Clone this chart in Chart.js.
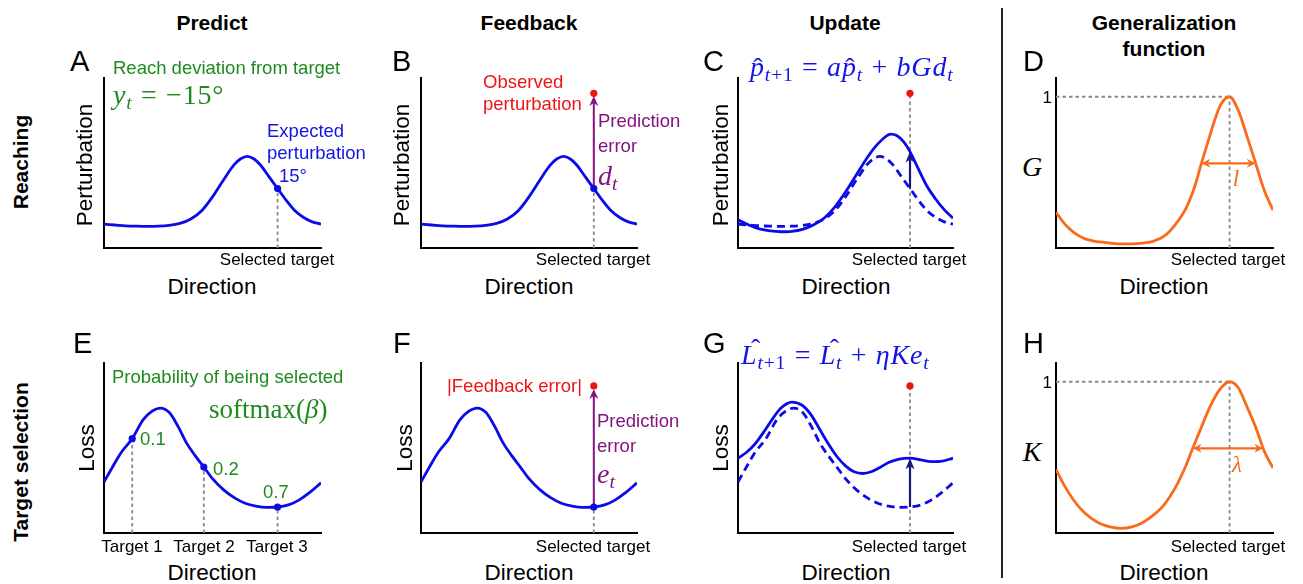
<!DOCTYPE html>
<html>
<head>
<meta charset="utf-8">
<script src="https://cdn.jsdelivr.net/npm/chart.js@4.4.1/dist/chart.umd.min.js"></script>
<style>
  html, body { margin: 0; padding: 0; background: #fff; }
  #fig { position: relative; width: 1303px; height: 584px; overflow: hidden; background: #fff; }
  canvas.plot { position: absolute; }
  .t { position: absolute; white-space: nowrap; line-height: 1; font-family: 'Liberation Sans', Arial, sans-serif; color: #000; }
  .c { transform: translate(-50%, -50%); }
  .l { transform: translate(0, -50%); }
  .r { transform: translate(-100%, -50%); }
  .rot { transform: translate(-50%, -50%) rotate(-90deg); }
  .title { font-size: 21px; font-weight: bold; }
  .letter { font-size: 29px; }
  .axis { font-size: 22.5px; }
  .tick { font-size: 17px; }
  .note { font-size: 18.5px; }
  .green { color: #1f8a1f; }
  .blue { color: #1414e6; }
  .red { color: #ee1414; }
  .purple { color: #84137f; }
  .orange { color: #fb6a1c; }
  .m { font-family: 'Liberation Serif', 'DejaVu Serif', serif; }
  .m i { font-style: italic; }
  .m sub { font-size: 70%; vertical-align: -0.28em; line-height: 0; }
  .f { letter-spacing: 0.03em; }
  .eq { margin: 0 0.3em; font-style: normal; }
  .hat { position: relative; display: inline-block; font-style: italic; }
  .hat::after { content: '\02C6'; position: absolute; left: 0.12em; top: 0.02em; font-style: normal; }
  .hat.cap::after { left: 0.36em; top: -0.2em; }
  #sep { position: absolute; left: 1001px; top: 8px; width: 1.5px; height: 570px; background: #222; }
</style>
</head>
<body>
<div id="fig">
  <canvas class="plot" id="pA" width="241" height="194" style="left:92px;top:66px"></canvas>
  <canvas class="plot" id="pB" width="240" height="194" style="left:409px;top:66px"></canvas>
  <canvas class="plot" id="pC" width="239" height="194" style="left:726px;top:66px"></canvas>
  <canvas class="plot" id="pD" width="241" height="194" style="left:1044px;top:66px"></canvas>
  <canvas class="plot" id="pE" width="241" height="194" style="left:92px;top:351px"></canvas>
  <canvas class="plot" id="pF" width="240" height="194" style="left:409px;top:351px"></canvas>
  <canvas class="plot" id="pG" width="239" height="194" style="left:726px;top:351px"></canvas>
  <canvas class="plot" id="pH" width="241" height="194" style="left:1044px;top:351px"></canvas>

  <div id="sep"></div>

  <!-- column and row headings -->
  <div class="t title c" style="left:212px;top:22px">Predict</div>
  <div class="t title c" style="left:529px;top:22px">Feedback</div>
  <div class="t title c" style="left:845px;top:22px">Update</div>
  <div class="t title c" style="left:1164px;top:22px">Generalization</div>
  <div class="t title c" style="left:1164px;top:48px">function</div>
  <div class="t title rot" style="left:20px;top:162px">Reaching</div>
  <div class="t title rot" style="left:20px;top:462px">Target selection</div>

  <!-- panel letters -->
  <div class="t letter l" style="left:70px;top:61px">A</div>
  <div class="t letter l" style="left:392px;top:61px">B</div>
  <div class="t letter l" style="left:703px;top:61px">C</div>
  <div class="t letter l" style="left:1023px;top:61px">D</div>
  <div class="t letter l" style="left:73px;top:343px">E</div>
  <div class="t letter l" style="left:393px;top:343px">F</div>
  <div class="t letter l" style="left:703px;top:343px">G</div>
  <div class="t letter l" style="left:1023px;top:343px">H</div>

  <!-- axis titles -->
  <div class="t axis rot" style="left:85px;top:165px">Perturbation</div>
  <div class="t axis rot" style="left:402px;top:165px">Perturbation</div>
  <div class="t axis rot" style="left:721px;top:165px">Perturbation</div>
  <div class="t axis rot" style="left:87px;top:448px">Loss</div>
  <div class="t axis rot" style="left:405px;top:448px">Loss</div>
  <div class="t axis rot" style="left:721px;top:448px">Loss</div>
  <div class="t m c" style="left:1032px;top:167px;font-size:28px"><i>G</i></div>
  <div class="t m c" style="left:1032px;top:452px;font-size:28px"><i>K</i></div>

  <div class="t axis c" style="left:212px;top:287px">Direction</div>
  <div class="t axis c" style="left:529px;top:287px">Direction</div>
  <div class="t axis c" style="left:846px;top:287px">Direction</div>
  <div class="t axis c" style="left:1164px;top:287px">Direction</div>
  <div class="t axis c" style="left:212px;top:573px">Direction</div>
  <div class="t axis c" style="left:529px;top:573px">Direction</div>
  <div class="t axis c" style="left:846px;top:573px">Direction</div>
  <div class="t axis c" style="left:1164px;top:573px">Direction</div>

  <!-- tick labels -->
  <div class="t tick c" style="left:277px;top:259px">Selected target</div>
  <div class="t tick c" style="left:593px;top:259px">Selected target</div>
  <div class="t tick c" style="left:909px;top:259px">Selected target</div>
  <div class="t tick c" style="left:1228px;top:259px">Selected target</div>
  <div class="t tick c" style="left:132px;top:546px">Target 1</div>
  <div class="t tick c" style="left:204px;top:546px">Target 2</div>
  <div class="t tick c" style="left:277px;top:546px">Target 3</div>
  <div class="t tick c" style="left:593px;top:546px">Selected target</div>
  <div class="t tick c" style="left:909px;top:546px">Selected target</div>
  <div class="t tick c" style="left:1228px;top:546px">Selected target</div>
  <div class="t tick r" style="left:1052px;top:97px">1</div>
  <div class="t tick r" style="left:1052px;top:382px">1</div>

  <!-- A -->
  <div class="t note green l" style="left:113px;top:68px">Reach deviation from target</div>
  <div class="t m f green l" style="left:113px;top:95px;font-size:28px"><i>y</i><sub><i>t</i></sub><span class="eq">=</span>&minus;15&deg;</div>
  <div class="t note blue l" style="left:267px;top:131px">Expected</div>
  <div class="t note blue l" style="left:267px;top:153px">perturbation</div>
  <div class="t note blue l" style="left:279px;top:176px">15&deg;</div>

  <!-- B -->
  <div class="t note red l" style="left:483px;top:82px">Observed</div>
  <div class="t note red l" style="left:483px;top:104px">perturbation</div>
  <div class="t note purple l" style="left:598px;top:121px">Prediction</div>
  <div class="t note purple l" style="left:598px;top:146px">error</div>
  <div class="t m purple l" style="left:598px;top:176px;font-size:28px"><i>d</i><sub><i>t</i></sub></div>

  <!-- C -->
  <div class="t m f blue l" style="left:750px;top:67px;font-size:28px"><span class="hat">p</span><sub><i>t</i>+1</sub><span class="eq">=</span><i>a</i><span class="hat">p</span><sub><i>t</i></sub><span class="eq">+</span><i>bGd</i><sub><i>t</i></sub></div>

  <!-- D -->
  <div class="t m orange c" style="left:1236px;top:178px;font-size:23px"><i>l</i></div>

  <!-- E -->
  <div class="t note green l" style="left:112px;top:377px">Probability of being selected</div>
  <div class="t m green l" style="left:209px;top:409px;font-size:27px">softmax(<i>&beta;</i>)</div>
  <div class="t note green l" style="left:140px;top:439px">0.1</div>
  <div class="t note green l" style="left:213px;top:469px">0.2</div>
  <div class="t note green l" style="left:263px;top:492px">0.7</div>

  <!-- F -->
  <div class="t note red l" style="left:447px;top:386px">|Feedback error|</div>
  <div class="t note purple l" style="left:597px;top:421px">Prediction</div>
  <div class="t note purple l" style="left:597px;top:446px">error</div>
  <div class="t m purple l" style="left:597px;top:474px;font-size:28px"><i>e</i><sub><i>t</i></sub></div>

  <!-- G -->
  <div class="t m f blue l" style="left:741px;top:355px;font-size:28px"><span class="hat cap">L</span><sub><i>t</i>+1</sub><span class="eq">=</span><span class="hat cap">L</span><sub><i>t</i></sub><span class="eq">+</span><i>&eta;Ke</i><sub><i>t</i></sub></div>

  <!-- H -->
  <div class="t m orange c" style="left:1237px;top:464px;font-size:23px"><i>&lambda;</i></div>
</div>

<script>
// ---- data (direction runs 0..100 along each x axis; selected target sits at 80) ----
const selectedTarget = 80;

// expected perturbation before the trial, degrees
const perturbDir   = [0, 5, 10, 15, 20, 25, 30, 35, 40, 45, 50, 55, 60, 63, 66, 69, 72, 76, 80, 84, 88, 92, 96, 100];
const perturbPrior = [6.0, 5.8, 5.6, 5.5, 5.45, 5.5, 5.7, 6.2, 7.3, 9.4, 12.9, 17.1, 21.0, 22.5, 23.1, 22.5, 21.0, 18.0, 15.0, 12.0, 9.4, 7.7, 6.6, 6.0];

// expected perturbation after the update, degrees
const updatedDir       = [0, 5, 10, 15, 20, 25, 30, 35, 40, 45, 50, 55, 60, 64, 68, 71, 74, 77, 80, 84, 88, 92, 96, 100];
const perturbUpdated   = [7.1, 5.8, 4.8, 4.3, 4.1, 4.2, 4.7, 5.8, 7.5, 10.3, 14.1, 18.4, 22.7, 25.6, 27.8, 28.7, 28.3, 26.8, 24.3, 19.8, 15.5, 12.3, 9.6, 7.5];
const observedPerturbation = 39;

// generalization function G (peak = 1)
const genDir = [0, 4, 8, 12, 16, 20, 25, 30, 35, 40, 45, 50, 55, 60, 64, 67, 70, 73, 76, 80, 84, 88, 92, 96, 100];
const genG   = [0.236, 0.16, 0.105, 0.07, 0.05, 0.04, 0.032, 0.027, 0.027, 0.032, 0.045, 0.08, 0.155, 0.265, 0.41, 0.56, 0.70, 0.84, 0.95, 1.0, 0.91, 0.74, 0.56, 0.38, 0.25];
const genWidth = [67, 92];

// expected loss before the trial
const lossDir   = [0, 4, 8, 13, 18, 22, 26, 30, 34, 38, 42, 46, 50, 55, 60, 65, 70, 75, 80, 85, 90, 95, 100];
const lossPrior = [30, 39, 47.5, 55.5, 66.5, 71.5, 73.5, 71, 63, 53, 45.5, 38.8, 32, 25.5, 20.8, 17.5, 15.8, 15.1, 15.3, 16.5, 19.5, 24, 29.5];

// expected loss after the update
const lossUpdDir  = [0, 4, 8, 12, 16, 20, 25, 30, 34, 38, 42, 46, 50, 54, 58, 62, 66, 70, 75, 80, 85, 90, 95, 100];
const lossUpdated = [44, 47.5, 52.5, 59.5, 67, 73.5, 77, 75, 69.5, 61, 52.5, 45, 39.5, 36, 35, 36, 38.5, 41.5, 43.5, 44, 43, 42, 42.3, 44];
const feedbackError = 86.5;

// candidate targets and their choice probabilities
const targetDirs  = [13, 46, 80];
const targetNames = ['Target 1', 'Target 2', 'Target 3'];
const targetProbs = ['0.1', '0.2', '0.7'];

// generalization kernel K (peak = 1)
const kernelDir = [0, 4, 8, 12, 16, 20, 25, 30, 35, 40, 45, 50, 55, 60, 63, 67, 71, 75, 80, 84, 88, 92, 96, 100];
const kernelK   = [0.42, 0.31, 0.22, 0.15, 0.10, 0.065, 0.04, 0.03, 0.04, 0.07, 0.12, 0.19, 0.30, 0.45, 0.56, 0.70, 0.835, 0.94, 1.0, 0.96, 0.835, 0.70, 0.54, 0.43];
const kernelWidth = [63, 95.5];

// ---- styling ----
const PAD = 12;
const BLUE = '#0b0be8', ORANGE = '#fb6a1c', RED = '#ee1414', PURPLE = '#84137f', NAVY = '#18187a', GUIDE = '#8a8a8a';

const at = (dirs, vals, d) => vals[dirs.indexOf(d)];
const pts = (dirs, vals) => dirs.map((d, i) => ({ x: d, y: vals[i] }));

function curve(dirs, vals, color, dashed) {
  return {
    data: pts(dirs, vals), borderColor: color, borderWidth: 2.8,
    borderDash: dashed ? [8, 5] : [], pointRadius: 0, fill: false,
    cubicInterpolationMode: 'monotone', borderCapStyle: 'butt'
  };
}
function dots(dirs, vals, color) {
  return {
    data: pts(dirs, vals), showLine: false, pointRadius: 3.6, pointBorderWidth: 0,
    pointBackgroundColor: color, pointBorderColor: color, borderColor: color
  };
}

function head(ctx, tx, ty, ux, uy, hl, hw, notch) {
  const bx = tx - ux * hl, by = ty - uy * hl, px = -uy, py = ux;
  ctx.beginPath();
  ctx.moveTo(tx, ty);
  ctx.lineTo(bx + px * hw, by + py * hw);
  ctx.lineTo(tx - ux * (hl - notch), ty - uy * (hl - notch));
  ctx.lineTo(bx - px * hw, by - py * hw);
  ctx.closePath();
  ctx.fill();
}
function drawArrow(ctx, x0, y0, x1, y1, a) {
  const len = Math.hypot(x1 - x0, y1 - y0), ux = (x1 - x0) / len, uy = (y1 - y0) / len;
  const hl = a.head || 10, hw = a.half || 4.5, notch = a.notch == null ? 3 : a.notch;
  ctx.strokeStyle = a.color; ctx.fillStyle = a.color; ctx.lineWidth = a.width || 2;
  const sx = a.both ? x0 + ux * (hl - notch) : x0, sy = a.both ? y0 + uy * (hl - notch) : y0;
  ctx.beginPath();
  ctx.moveTo(sx, sy);
  ctx.lineTo(x1 - ux * (hl - notch), y1 - uy * (hl - notch));
  ctx.stroke();
  head(ctx, x1, y1, ux, uy, hl, hw, notch);
  if (a.both) head(ctx, x0, y0, -ux, -uy, hl, hw, notch);
}

// dotted guides and arrows, placed in data units through the chart scales
const guidesPlugin = {
  id: 'guides',
  beforeDatasetsDraw(chart, _args, o) {
    const { ctx } = chart, xs = chart.scales.x, ys = chart.scales.y;
    const X = v => xs.getPixelForValue(v), Y = v => ys.getPixelForValue(v);
    ctx.save();
    ctx.strokeStyle = GUIDE; ctx.lineWidth = 1.8; ctx.setLineDash([3.5, 3]);
    (o.vlines || []).forEach(g => {
      ctx.beginPath(); ctx.moveTo(X(g.x), Y(g.from)); ctx.lineTo(X(g.x), Y(g.to)); ctx.stroke();
    });
    (o.hlines || []).forEach(g => {
      ctx.beginPath(); ctx.moveTo(X(g.from), Y(g.y)); ctx.lineTo(X(g.to), Y(g.y)); ctx.stroke();
    });
    ctx.setLineDash([]);
    (o.arrows || []).forEach(a => drawArrow(ctx, X(a.x0), Y(a.y0), X(a.x1), Y(a.y1), a));
    ctx.restore();
  }
};

function axis(min, max) {
  return {
    type: 'linear', min, max,
    grid: { display: false, drawTicks: false },
    ticks: { display: false },
    border: { display: true, color: '#000', width: 2 }
  };
}

function panel(id, yMax, datasets, guides) {
  return new Chart(document.getElementById(id), {
    type: 'line',
    data: { datasets },
    options: {
      responsive: false, animation: false, events: [],
      layout: { padding: PAD },
      plugins: { legend: { display: false }, tooltip: { enabled: false }, guides },
      scales: { x: axis(0, 100), y: axis(0, yMax) }
    },
    plugins: [guidesPlugin]
  });
}

const PERT_MAX = 42.86, LOSS_MAX = 100, GEN_MAX = 1.124;
const pSel = at(perturbDir, perturbPrior, selectedTarget);
const pUpd = at(updatedDir, perturbUpdated, selectedTarget);
const lSel = at(lossDir, lossPrior, selectedTarget);
const lUpd = at(lossUpdDir, lossUpdated, selectedTarget);
const targetLoss = targetDirs.map(d => at(lossDir, lossPrior, d));

// A: predicted perturbation
panel('pA', PERT_MAX,
  [curve(perturbDir, perturbPrior, BLUE), dots([selectedTarget], [pSel], BLUE)],
  { vlines: [{ x: selectedTarget, from: 0, to: pSel }] });

// B: feedback on the reach
panel('pB', PERT_MAX,
  [curve(perturbDir, perturbPrior, BLUE), dots([selectedTarget], [pSel], BLUE),
   dots([selectedTarget], [observedPerturbation], RED)],
  { vlines: [{ x: selectedTarget, from: 0, to: pSel }],
    arrows: [{ x0: selectedTarget, y0: pSel, x1: selectedTarget, y1: observedPerturbation - 0.7,
               color: PURPLE, width: 2, head: 10, half: 4.5 }] });

// C: updated perturbation estimate
panel('pC', PERT_MAX,
  [curve(perturbDir, perturbPrior, BLUE, true), curve(updatedDir, perturbUpdated, BLUE),
   dots([selectedTarget], [observedPerturbation], RED)],
  { vlines: [{ x: selectedTarget, from: 0, to: observedPerturbation }],
    arrows: [{ x0: selectedTarget, y0: pSel, x1: selectedTarget, y1: pUpd,
               color: NAVY, width: 2.2, head: 11, half: 4.5 }] });

// D: generalization function
panel('pD', GEN_MAX,
  [curve(genDir, genG, ORANGE)],
  { vlines: [{ x: selectedTarget, from: 0, to: 1 }], hlines: [{ y: 1, from: 0, to: selectedTarget }],
    arrows: [{ x0: genWidth[0], y0: 0.56, x1: genWidth[1], y1: 0.56, color: ORANGE, width: 2.2,
               both: true, head: 9, half: 4.5 }] });

// E: predicted loss at each candidate target
panel('pE', LOSS_MAX,
  [curve(lossDir, lossPrior, BLUE), dots(targetDirs, targetLoss, BLUE)],
  { vlines: targetDirs.map((d, i) => ({ x: d, from: 0, to: targetLoss[i] })) });

// F: feedback on the selected target
panel('pF', LOSS_MAX,
  [curve(lossDir, lossPrior, BLUE), dots([selectedTarget], [lSel], BLUE),
   dots([selectedTarget], [feedbackError], RED)],
  { vlines: [{ x: selectedTarget, from: 0, to: lSel }],
    arrows: [{ x0: selectedTarget, y0: lSel, x1: selectedTarget, y1: feedbackError - 1.8,
               color: PURPLE, width: 2, head: 10, half: 4.5 }] });

// G: updated loss estimate
panel('pG', LOSS_MAX,
  [curve(lossDir, lossPrior, BLUE, true), curve(lossUpdDir, lossUpdated, BLUE),
   dots([selectedTarget], [feedbackError], RED)],
  { vlines: [{ x: selectedTarget, from: 0, to: feedbackError }],
    arrows: [{ x0: selectedTarget, y0: lSel, x1: selectedTarget, y1: lUpd,
               color: NAVY, width: 2.2, head: 11, half: 4.5 }] });

// H: loss generalization kernel
panel('pH', GEN_MAX,
  [curve(kernelDir, kernelK, ORANGE)],
  { vlines: [{ x: selectedTarget, from: 0, to: 1 }], hlines: [{ y: 1, from: 0, to: selectedTarget }],
    arrows: [{ x0: kernelWidth[0], y0: 0.56, x1: kernelWidth[1], y1: 0.56, color: ORANGE, width: 2.2,
               both: true, head: 9, half: 4.5 }] });
</script>
</body>
</html>
